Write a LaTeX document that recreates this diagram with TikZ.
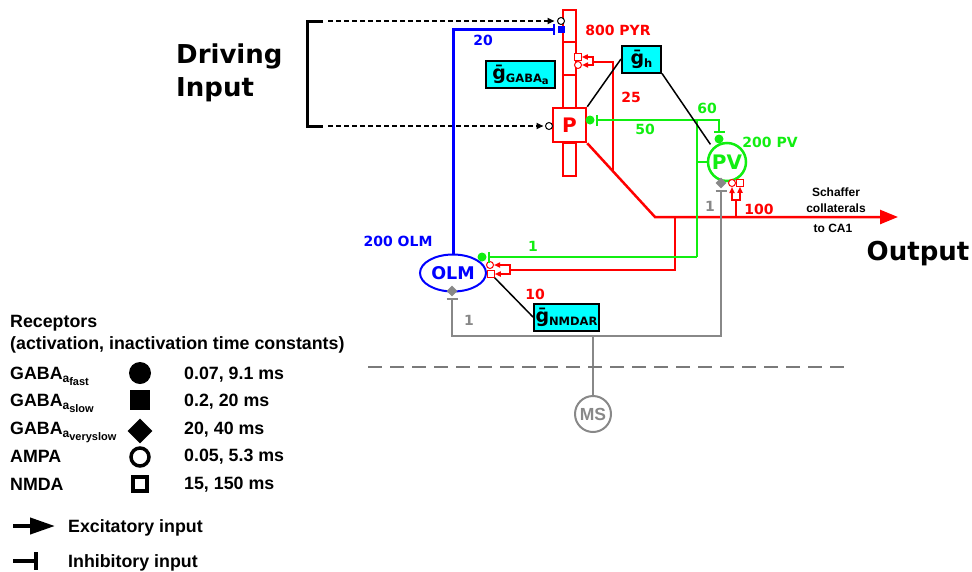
\documentclass[tikz,border=0pt]{standalone}
\usepackage{fontspec}
\setmainfont{DejaVu Sans}
\newfontfamily\legfont{Liberation Sans}
\usepackage{tikz}
\usetikzlibrary{arrows.meta, positioning, shapes.geometric, calc}
\definecolor{pyrred}{HTML}{FF0000}
\definecolor{pvgreen}{HTML}{11EE11}
\definecolor{olmblue}{HTML}{0000FF}
\definecolor{msgray}{HTML}{888888}
\definecolor{condcyan}{HTML}{00FFFF}
\newcommand{\fsz}[1]{\fontsize{#1}{#1}\selectfont}
\newcommand{\gbar}[1]{{\fsz{19}ḡ}\raisebox{-3pt}{\fsz{11.5}#1}}
\newcommand{\legsub}[1]{\raisebox{-3pt}{\fsz{12}a\raisebox{-3pt}{\fsz{11}#1}}}

\begin{document}
\begin{tikzpicture}[
  x=1pt, y=-1pt,
  lbl/.style={font=\bfseries\fsz{14}, inner sep=0pt},
  cell/.style={draw, line width=2.5pt, fill=white, font=\bfseries\fsz{20}, inner sep=0pt},
  dend/.style={rectangle, draw=pyrred, line width=2pt, minimum width=13pt, inner sep=0pt},
  cond/.style={rectangle, draw=black, line width=2pt, fill=condcyan, minimum height=27pt, inner sep=0pt, font=\bfseries},
  fastsyn/.style={circle, fill, minimum size=9pt, inner sep=0pt},
  slowsyn/.style={rectangle, fill, minimum size=7pt, inner sep=0pt},
  vslowsyn/.style={diamond, fill, minimum size=11pt, inner sep=0pt},
  ampasyn/.style={circle, draw, fill=white, line width=1pt, minimum size=7pt, inner sep=0pt},
  nmdasyn/.style={rectangle, draw, fill=white, line width=1pt, minimum size=6.5pt, inner sep=0pt},
  pyrline/.style={draw=pyrred, line width=2.5pt},
  pvline/.style={draw=pvgreen, line width=2.5pt},
  olmline/.style={draw=olmblue, line width=3pt},
  msline/.style={draw=msgray, line width=2.5pt},
  inh/.style={-{Bar[width=11pt, line width=1.5pt]}, shorten >=1.5pt},
  exc/.style={draw=pyrred, line width=1.5pt, -{Triangle[length=6pt, width=5pt]}},
  drive/.style={draw=black, line width=1.8pt, dash pattern=on 5pt off 3pt, -{Triangle[length=7pt, width=6pt]}},
  leg/.style={font=\legfont\bfseries\fsz{17.8}, anchor=base west, inner sep=0pt}
]
\useasboundingbox (0,0) rectangle (972,571);

\node[dend, minimum height=32pt] (d1) at (569.5,26) {};
\node[dend, minimum height=33pt] (d2) at (569.5,58.5) {};
\node[dend, minimum height=33pt] (d3) at (569.5,91) {};
\node[dend, minimum height=33pt] (d4) at (569.5,159.5) {};
\node[cell, draw=pyrred, text=pyrred, minimum width=33pt, minimum height=34pt] (P) at (569.5,125) {P};
\node[cell, circle, draw=pvgreen, text=pvgreen, minimum size=38pt] (PV) at (727,162) {PV};
\node[cell, ellipse, draw=olmblue, text=olmblue, line width=2pt, minimum width=66pt, minimum height=37pt, font=\bfseries\fsz{17.5}] (OLM) at (453,273) {OLM};
\node[circle, draw=msgray, line width=2pt, text=msgray, minimum size=36pt, inner sep=0pt, font=\legfont\bfseries\fsz{17.5}] (MS) at (593,414) {MS};

\node[cond, minimum width=69pt] (ggaba) at (520.5,74.5) {\gbar{GABA\raisebox{-2pt}{\fsz{10}a}}};
\node[cond, minimum width=39pt] (gh) at (641.5,59) {\gbar{h}};
\node[cond, minimum width=65pt] (gnmda) at (566.5,317) {\gbar{NMDAR}};

\node[ampasyn, draw=black] (ampaT) at (561,21) {};
\node[slowsyn, fill=olmblue] (slowT) at (561,29) {};
\node[nmdasyn, draw=pyrred] (nmdaD) at (578,57) {};
\node[ampasyn, draw=pyrred] (ampaD) at (578,65) {};
\node[ampasyn, draw=black] (ampaP) at (549,126) {};
\node[fastsyn, fill=pvgreen] (fastP) at (590,120) {};
\node[fastsyn, fill=pvgreen] (fastPV) at (719,139) {};
\node[vslowsyn, fill=msgray] (vsPV) at (721,183) {};
\node[ampasyn, draw=pyrred] (ampaPV) at (732,183) {};
\node[nmdasyn, draw=pyrred] (nmdaPV) at (740,183) {};
\node[fastsyn, fill=pvgreen] (fastO) at (482,257) {};
\node[ampasyn, draw=pyrred] (ampaO) at (490,265) {};
\node[nmdasyn, draw=pyrred] (nmdaO) at (491,274) {};
\node[vslowsyn, fill=msgray] (vsO) at (452,291) {};

\coordinate (brT) at (307,21);
\coordinate (brB) at (307,126);
\coordinate (din1) at (323,21);
\coordinate (din2) at (323,126);
\coordinate (rK) at (655,217);
\coordinate (outE) at (898,217);
\coordinate (r25) at (613,171);
\coordinate (r25t) at (613,62);
\coordinate (rfD) at (593,62);
\coordinate (rO1) at (675,217);
\coordinate (rO2) at (675,270);
\coordinate (rfO) at (510,270);
\coordinate (rP1) at (736,217);
\coordinate (rfP) at (736,200);
\coordinate (gT) at (697,120);
\coordinate (gM) at (697,162);
\coordinate (gB) at (697,257);
\coordinate (gj) at (593,336);
\coordinate (slL) at (368,367);
\coordinate (slR) at (848,367);

\draw[line width=3pt] (din1) -- (brT) -- (brB) -- (din2);
\draw[drive, shorten <=5pt, shorten >=2.5pt] (din1) -- (ampaT);
\draw[drive, shorten <=5pt, shorten >=1.5pt] (din2) -- (ampaP);

\draw[olmline, inh, shorten >=2.5pt] (OLM.north) |- (slowT);

\draw[pyrline, -{Triangle[length=18pt, width=14pt]}] (P.south east) -- (rK) -- (outE);
\draw[pyrline] (r25) -- (r25t) -- (rfD);
\draw[exc] (rfD) |- (nmdaD);
\draw[exc] (rfD) |- (ampaD);
\draw[pyrline] (rO1) -- (rO2) -- (rfO);
\draw[exc] (rfO) |- (ampaO);
\draw[exc] (rfO) |- (nmdaO);
\draw[pyrline] (rP1) -- (rfP);
\draw[exc] (rfP) -| (ampaPV);
\draw[exc] (rfP) -| (nmdaPV);

\draw[pvline] (PV.west) -- (gM);
\draw[pvline] (gT) -- (gB);
\draw[pvline, inh] (gT) -- (fastP);
\draw[pvline, inh] (gT) -| (fastPV);
\draw[pvline, inh] (gB) -- (fastO);

\draw[msline] (MS) -- (gj);
\draw[msline, inh] (gj) -| (vsO);
\draw[msline, inh] (gj) -| (vsPV);
\draw[msline, line width=1.5pt, draw=msgray!90!black, dash pattern=on 14pt off 8pt] (slL) -- (slR);

\draw[line width=1.5pt] (gh.west) -- (P.north east);
\draw[line width=1.5pt, shorten >=4pt] (gh.south east) -- (PV.north west);
\draw[line width=1.5pt] (gnmda.west) -- (nmdaO);

\node[font=\bfseries\fontsize{26}{33}\selectfont, align=left, anchor=west, inner sep=0pt] (drv) at (176,73) {Driving\\Input};
\node[font=\bfseries\fsz{26}, anchor=base, inner sep=0pt] (out) at (918,260) {Output};
\node[font=\legfont\bfseries\fontsize{12}{16}\selectfont, align=center, anchor=south, inner sep=0pt] (sch) at (836,213) {Schaffer\\collaterals};
\node[font=\legfont\bfseries\fsz{12}, inner sep=0pt] (ca1) at (833,228) {to CA1};

\node[lbl, text=pyrred] (npyr) at (618,30) {800 PYR};
\node[lbl, text=olmblue] (n20) at (483,40) {20};
\node[lbl, text=pyrred] (n25) at (631,97) {25};
\node[lbl, text=pvgreen] (n60) at (707,108) {60};
\node[lbl, text=pvgreen] (n50) at (645,129) {50};
\node[lbl, text=pvgreen] (npv) at (770,142) {200 PV};
\node[lbl, text=msgray] (n1pv) at (710,206) {1};
\node[lbl, text=pyrred] (n100) at (759,209) {100};
\node[lbl, text=olmblue] (nolm) at (398,241) {200 OLM};
\node[lbl, text=pvgreen] (n1olm) at (533,246) {1};
\node[lbl, text=pyrred] (n10) at (535,294) {10};
\node[lbl, text=msgray] (n1ms) at (469,320) {1};

\node[leg] (rec) at (10,327) {Receptors};
\node[leg] (rec2) at (10,349) {(activation, inactivation time constants)};
\node[leg] (tfast) at (10,379) {GABA\legsub{fast}};
\node[leg] (tslow) at (10,406) {GABA\legsub{slow}};
\node[leg] (tvslow) at (10,434) {GABA\legsub{veryslow}};
\node[leg] (tampa) at (10,462) {AMPA};
\node[leg] (tnmda) at (10,490) {NMDA};
\node[circle, fill, minimum size=22pt, inner sep=0pt] (kfast) at (140,373) {};
\node[rectangle, fill, minimum size=20pt, inner sep=0pt] (kslow) at (140,400) {};
\node[diamond, fill, minimum size=25pt, inner sep=0pt] (kvslow) at (140,431) {};
\node[circle, draw, line width=3.5pt, minimum size=18pt, inner sep=0pt] (kampa) at (140,457) {};
\node[rectangle, draw, line width=3.5pt, minimum size=14pt, inner sep=0pt] (knmda) at (140,484) {};
\node[leg] (vfast) at (184,379) {0.07, 9.1 ms};
\node[leg] (vslow) at (184,406) {0.2, 20 ms};
\node[leg] (vvslow) at (184,434) {20, 40 ms};
\node[leg] (vampa) at (184,461) {0.05, 5.3 ms};
\node[leg] (vnmda) at (184,489) {15, 150 ms};

\coordinate (exS) at (13,526);
\coordinate (inS) at (13,561);
\node[leg] (texc) at (68,532) {Excitatory input};
\node[leg] (tinh) at (68,567) {Inhibitory input};
\draw[line width=4pt, -{Triangle[length=25pt, width=16pt]}, shorten >=13pt] (exS) -- (exS -| texc.west);
\draw[line width=4pt, -{Bar[width=18pt]}, shorten >=30pt] (inS) -- (inS -| tinh.west);
\end{tikzpicture}
\end{document}
